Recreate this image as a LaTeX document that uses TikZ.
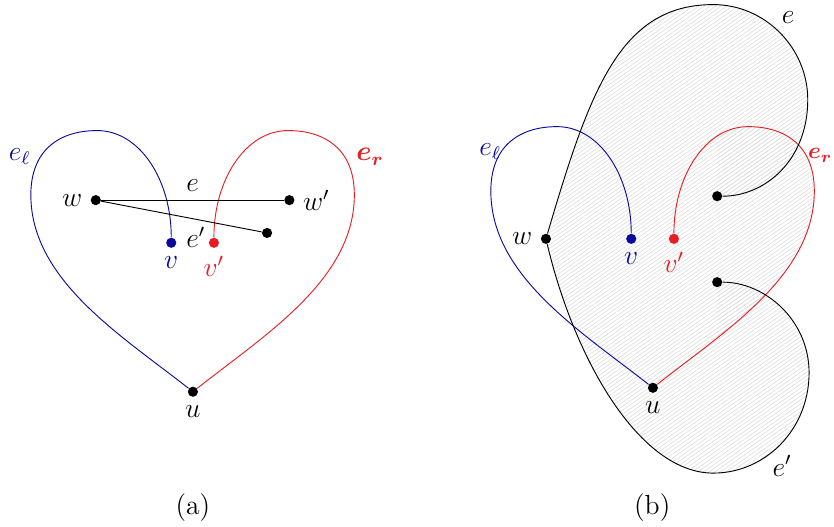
\documentclass[tikz,border=0pt]{standalone}
\usepackage{amsmath,amssymb}
\usepackage{xcolor}
\usetikzlibrary{patterns.meta,backgrounds}

\definecolor{leftblue}{RGB}{10,10,160}
\definecolor{rightred}{RGB}{230,30,35}

\tikzset{
  every node/.append style={font=\large},
  dot/.style={circle, fill=black, inner sep=0pt, minimum size=4.4pt},
  bluedot/.style={dot, fill=leftblue},
  reddot/.style={dot, fill=rightred},
  eleft/.style={leftblue, thin},
  eright/.style={rightred, thin},
  hatched/.style={pattern={Lines[angle=35, distance=1.4pt, line width=0.3pt]}, pattern color=gray!25},
}

\begin{document}
\begin{tikzpicture}
		
		\useasboundingbox (0,0) rectangle (12.71,8.03);
		
		% (a)
		\node[dot] (ua) at (2.94,2.06) {};
		\node[bluedot] (va) at (2.61,4.33) {};
		\node[reddot] (vpa) at (3.26,4.33) {};
		\node[dot] (wa) at (1.46,4.98) {};
		\node[dot] (wpa) at (4.41,4.98) {};
		\node[dot] (xa) at (4.07,4.48) {};
		
		\node[left] at (wa.west) {\(w\)};
		\node[right] at (wpa.east) {\(w'\)};
		\node[below, leftblue] at (va.south) {\(v\)};
		\node[below, rightred] at (vpa.south) {\(v'\)};
		\node[below] at (ua.south) {\(u\)};
		
		% heart
		\draw[eleft] (ua) .. controls (1.83,2.93) and (0.47,3.77) .. (0.47,5.06)
			.. controls (0.47,5.75) and (0.91,6.04) .. (1.48,6.04)
			.. controls (2.13,6.04) and (2.61,5.29) .. (va);
		\draw[eright] (ua) .. controls (4.04,2.93) and (5.40,3.77) .. (5.40,5.06)
			.. controls (5.40,5.75) and (4.96,6.04) .. (4.39,6.04)
			.. controls (3.74,6.04) and (3.26,5.29) .. (vpa);
		\node[leftblue] at (0.30,5.64) {\(e_\ell\)};
		\node[rightred] at (5.64,5.64) {\(\boldsymbol{e_r}\)};
		
		% edges e and e'
		\draw (wa) -- node[midway, above] {\(e\)} (wpa);
		\draw (wa) -- node[pos=0.59, below] {\(e'\)} (xa);
		
		\node (capa) at (2.94,0.30) {(a)};
		
		% (b)
		\begin{scope}[xshift=7.01cm, yshift=0.06cm]
			\node[dot] (ub) at (2.94,2.06) {};
			\node[bluedot] (vb) at (2.61,4.33) {};
			\node[reddot] (vpb) at (3.26,4.33) {};
			\node[dot] (wb) at (1.31,4.33) {};
			\node[dot] (eb) at (3.92,4.98) {};
			\node[dot] (epb) at (3.92,3.67) {};
			
			% hatched region
			\begin{scope}[on background layer]
				\fill[hatched]
					(wb.center) .. controls (1.98,6.60) and (2.44,7.90) .. (3.86,7.90)
					.. controls (4.65,7.90) and (5.30,7.24) .. (5.30,6.45)
					.. controls (5.30,5.53) and (4.65,4.98) .. (eb.center)
					-- (epb.center)
					.. controls (4.65,3.67) and (5.32,3.09) .. (5.32,2.29)
					.. controls (5.32,1.42) and (4.65,0.76) .. (3.86,0.76)
					.. controls (2.74,0.76) and (1.75,2.48) .. (wb.center) -- cycle;
				\clip (3.92,0) rectangle (6,8);
				\fill[hatched] (ub.center) .. controls (4.04,2.93) and (5.40,3.77) .. (5.40,5.06)
					.. controls (5.40,5.75) and (4.96,6.04) .. (4.39,6.04)
					.. controls (3.74,6.04) and (3.26,5.29) .. (vpb.center) -- cycle;
			\end{scope}
			
			% heart
			\draw[eleft] (ub) .. controls (1.83,2.93) and (0.47,3.77) .. (0.47,5.06)
				.. controls (0.47,5.75) and (0.91,6.04) .. (1.48,6.04)
				.. controls (2.13,6.04) and (2.61,5.29) .. (vb);
			\draw[eright] (ub) .. controls (4.04,2.93) and (5.40,3.77) .. (5.40,5.06)
				.. controls (5.40,5.75) and (4.96,6.04) .. (4.39,6.04)
				.. controls (3.74,6.04) and (3.26,5.29) .. (vpb);
			\node[leftblue] at (0.46,5.66) {\(e_\ell\)};
			\node[rightred, anchor=east, inner sep=0.5pt, font=\normalsize] at (5.70,5.60) {\(\boldsymbol{e_r}\)};
			
			% edges e and e'
			\draw (wb) .. controls (1.98,6.60) and (2.44,7.90) .. (3.86,7.90)
				.. controls (4.65,7.90) and (5.30,7.24) .. (5.30,6.45)
				.. controls (5.30,5.53) and (4.65,4.98) .. (eb);
			\draw (wb) .. controls (1.75,2.48) and (2.74,0.76) .. (3.86,0.76)
				.. controls (4.65,0.76) and (5.32,1.42) .. (5.32,2.29)
				.. controls (5.32,3.09) and (4.65,3.67) .. (epb);
			\node at (5.00,7.70) {\(e\)};
			\node at (4.91,0.87) {\(e'\)};
			
			\node[left] at (wb.west) {\(w\)};
			\node[below, leftblue] at (vb.south) {\(v\)};
			\node[below, rightred] at (vpb.south) {\(v'\)};
			\node[below] at (ub.south) {\(u\)};
		\end{scope}
		
		\node (capb) at (9.94,0.30) {(b)};
		
	\end{tikzpicture}
\end{document}
